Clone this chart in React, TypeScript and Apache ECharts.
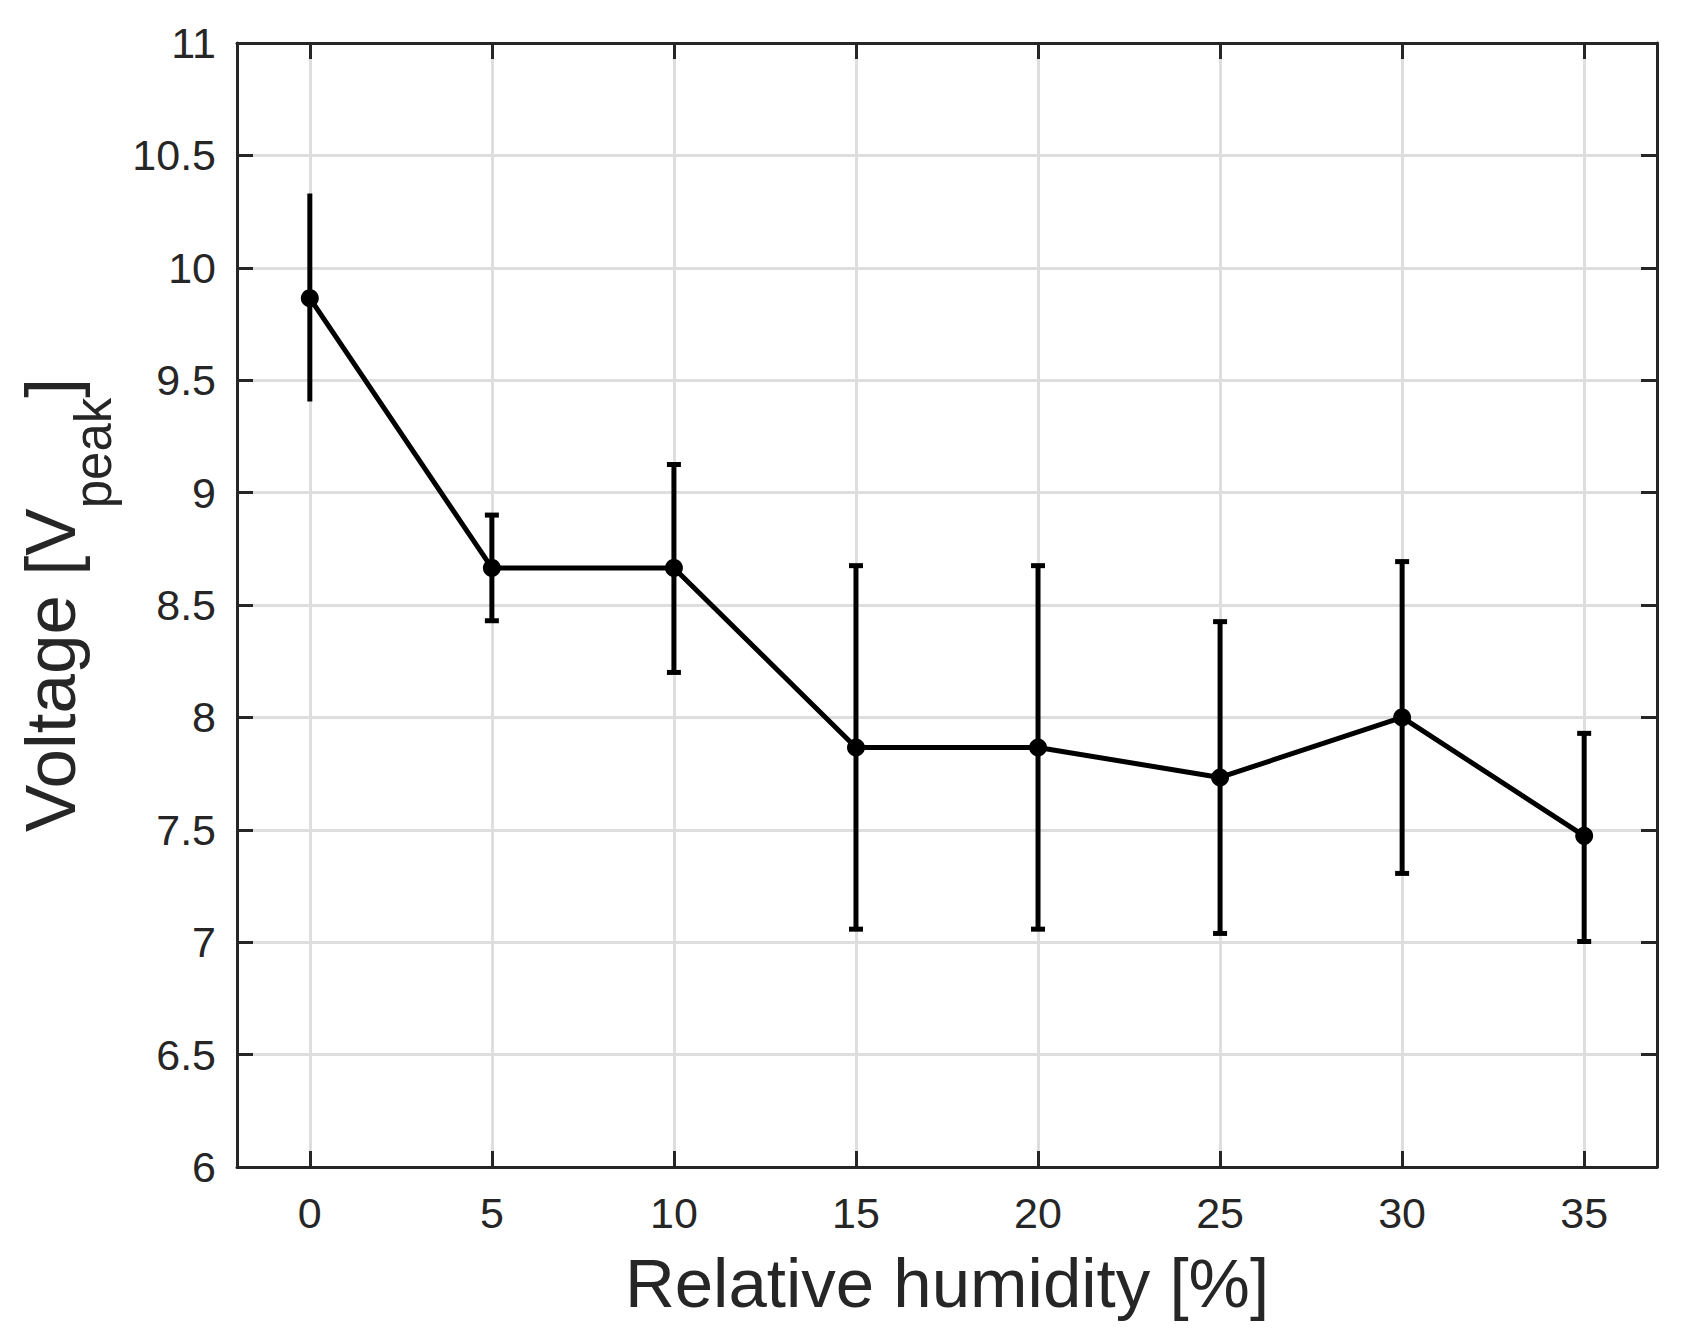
import React, { useEffect, useRef } from "react";
import * as echarts from "echarts";

const humidity = [0, 5, 10, 15, 20, 25, 30, 35];
const voltage = [9.865, 8.665, 8.665, 7.866, 7.866, 7.733, 8.0, 7.473];
const errUpper = [10.33, 8.9, 9.125, 8.675, 8.675, 8.426, 8.693, 7.929];
const errLower = [9.405, 8.43, 8.2, 7.058, 7.058, 7.039, 7.306, 7.003];
const capShown = [0, 1, 1, 1, 1, 1, 1, 1];

const xTitle = "Relative humidity [%]";
const yTitleMain = "Voltage [V";
const yTitleSub = "peak";
const yTitleEnd = "]";

const FONT = "'Liberation Sans', Arial, Helvetica, sans-serif";
const AXIS_COLOR = "#262626";

export default function App() {
  const ref = useRef<HTMLDivElement>(null);

  useEffect(() => {
    document.body.style.margin = "0";
    if (!ref.current) return;
    const chart = echarts.init(ref.current, undefined, { renderer: "svg" });

    const errData = humidity.map((x, i) => [x, errLower[i], errUpper[i], capShown[i]]);
    const lineData = humidity.map((x, i) => [x, voltage[i]]);

    const axisCommonX = {
      type: "value" as const,
      min: -2,
      max: 37,
      splitNumber: 8,
      axisLine: { show: true, onZero: false, lineStyle: { color: AXIS_COLOR, width: 3 } },
      axisTick: { show: true, inside: true, length: 16, lineStyle: { color: AXIS_COLOR, width: 3 } },
    };
    const axisCommonY = {
      type: "value" as const,
      min: 6,
      max: 11,
      interval: 0.5,
      axisLine: { show: true, onZero: false, lineStyle: { color: AXIS_COLOR, width: 3 } },
      axisTick: { show: true, inside: true, length: 16, lineStyle: { color: AXIS_COLOR, width: 3 } },
    };

    chart.setOption({
      animation: false,
      backgroundColor: "#ffffff",
      grid: { left: 237, right: 35, top: 43, bottom: 176, containLabel: false },
      xAxis: [
        {
          ...axisCommonX,
          position: "bottom",
          name: xTitle,
          nameLocation: "middle",
          nameGap: 82,
          nameTextStyle: { fontFamily: FONT, fontSize: 69, color: AXIS_COLOR, lineHeight: 69 },
          axisLabel: {
            show: true,
            margin: 24,
            fontFamily: FONT,
            fontSize: 43,
            color: AXIS_COLOR,
            formatter: (v: number) => (Math.abs(v % 5) < 1e-9 ? String(v) : ""),
            showMinLabel: false,
            showMaxLabel: false,
          },
          splitLine: { show: true, lineStyle: { color: "#dedede", width: 3 } },
        },
        {
          ...axisCommonX,
          position: "top",
          axisLabel: { show: false },
          splitLine: { show: false },
        },
      ],
      yAxis: [
        {
          ...axisCommonY,
          position: "left",
          name: `{a|${yTitleMain}}{s|${yTitleSub}}{a|${yTitleEnd}}`,
          nameLocation: "middle",
          nameRotate: 90,
          nameGap: 118,
          nameTextStyle: {
            fontFamily: FONT,
            color: AXIS_COLOR,
            rich: {
              a: { fontFamily: FONT, fontSize: 71, lineHeight: 137, color: AXIS_COLOR },
              s: {
                fontFamily: FONT,
                fontSize: 51,
                lineHeight: 51,
                verticalAlign: "bottom",
                color: AXIS_COLOR,
              },
            },
          },
          axisLabel: { show: true, margin: 21, fontFamily: FONT, fontSize: 43, color: AXIS_COLOR },
          splitLine: { show: true, lineStyle: { color: "#dedede", width: 3 } },
        },
        {
          ...axisCommonY,
          position: "right",
          axisLabel: { show: false },
          splitLine: { show: false },
        },
      ],
      series: [
        {
          type: "custom",
          xAxisIndex: 0,
          yAxisIndex: 0,
          data: errData,
          z: 3,
          renderItem: (params: any, api: any) => {
            const x = api.value(0);
            const lo = api.value(1);
            const hi = api.value(2);
            const cap = api.value(3);
            const pLo = api.coord([x, lo]);
            const pHi = api.coord([x, hi]);
            const style = { stroke: "#000000", lineWidth: 5 };
            const children: any[] = [
              { type: "line", shape: { x1: pHi[0], y1: pHi[1], x2: pLo[0], y2: pLo[1] }, style },
            ];
            if (cap) {
              const w = 7;
              children.push(
                { type: "line", shape: { x1: pHi[0] - w, y1: pHi[1], x2: pHi[0] + w, y2: pHi[1] }, style },
                { type: "line", shape: { x1: pLo[0] - w, y1: pLo[1], x2: pLo[0] + w, y2: pLo[1] }, style }
              );
            }
            return { type: "group", children };
          },
        },
        {
          type: "line",
          xAxisIndex: 0,
          yAxisIndex: 0,
          data: lineData,
          z: 4,
          symbol: "circle",
          symbolSize: 18,
          showSymbol: true,
          itemStyle: { color: "#000000" },
          lineStyle: { color: "#000000", width: 5 },
        },
      ],
    });

    return () => chart.dispose();
  }, []);

  return <div ref={ref} style={{ width: 1692, height: 1343 }} />;
}
